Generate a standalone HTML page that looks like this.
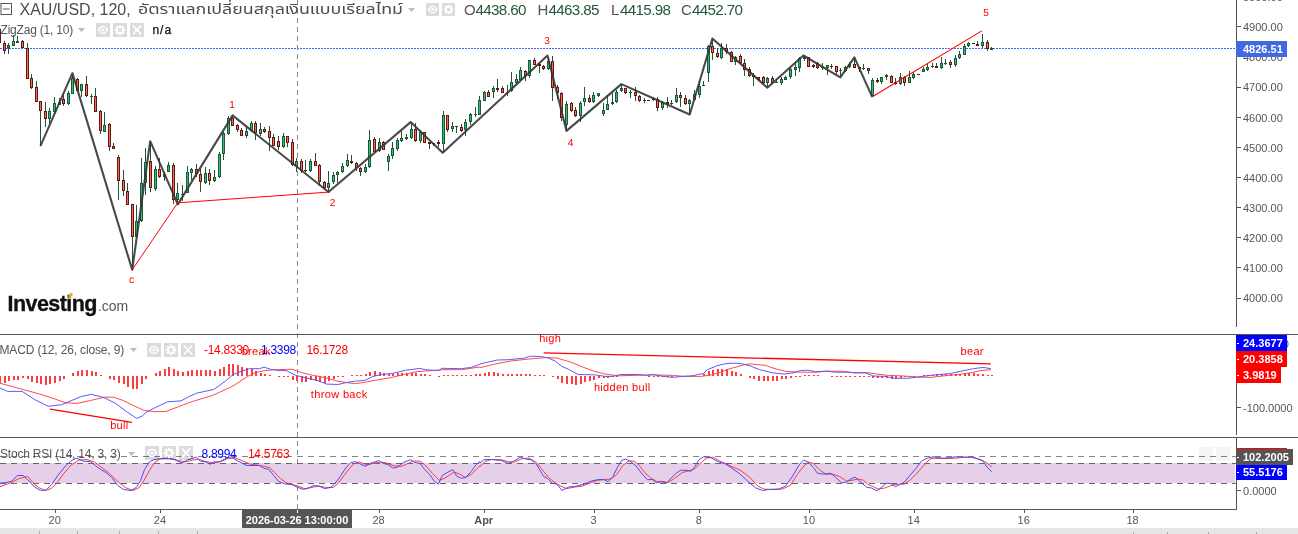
<!DOCTYPE html>
<html><head><meta charset="utf-8"><title>XAU/USD</title>
<style>
html,body{margin:0;padding:0;background:#fff;}
body{width:1298px;height:534px;position:relative;overflow:hidden;font-family:"Liberation Sans",Arial,sans-serif;}
#c{position:absolute;left:0;top:0;}
.t{position:absolute;white-space:nowrap;line-height:1;}
.ax{position:absolute;left:1243px;font-size:11px;color:#555;white-space:nowrap;line-height:11px;}
.lb{position:absolute;left:1236px;height:16px;color:#fff;font-weight:bold;font-size:11px;line-height:16px;padding-left:7px;box-sizing:border-box;white-space:nowrap;}
.lb:before{content:"";position:absolute;left:1px;top:8px;width:2px;height:1px;background:#fff;}
.nt:before{display:none;}
.tm{position:absolute;top:514.5px;font-size:11px;color:#555;line-height:11px;transform:translateX(-50%);white-space:nowrap;}
.rd{color:#ff0000;font-size:10px;text-rendering:geometricPrecision;}
.ic{position:absolute;background:rgba(0,0,0,0.14);}
.ic svg{position:absolute;left:0;top:0;}
.leg{color:#555;font-size:12px;}
</style></head><body>

<svg id="c" width="1298" height="534" viewBox="0 0 1298 534">
<line x1="0" y1="48.5" x2="1236" y2="48.5" stroke="#4169e1" stroke-width="1" stroke-dasharray="2,1" shape-rendering="crispEdges"/>
<line x1="297.5" y1="0" x2="297.5" y2="509" stroke="#8c8c8c" stroke-width="1" stroke-dasharray="5,4" shape-rendering="crispEdges"/>
<g shape-rendering="crispEdges"><rect x="-1" y="29" width="1" height="14" fill="#225437"/><rect x="-2" y="29" width="3" height="14" fill="#5b1a13"/><rect x="-1" y="30" width="1" height="12" fill="#ff6656"/><rect x="4" y="41" width="1" height="13" fill="#225437"/><rect x="3" y="43" width="3" height="8" fill="#5b1a13"/><rect x="4" y="44" width="1" height="6" fill="#ff6656"/><rect x="8" y="43" width="1" height="11" fill="#225437"/><rect x="7" y="45" width="3" height="3" fill="#225437"/><rect x="8" y="46" width="1" height="1" fill="#1ec773"/><rect x="13" y="35" width="1" height="11" fill="#225437"/><rect x="12" y="41" width="3" height="5" fill="#225437"/><rect x="13" y="42" width="1" height="3" fill="#1ec773"/><rect x="17" y="36" width="1" height="7" fill="#225437"/><rect x="16" y="41" width="3" height="2" fill="#225437"/><rect x="22" y="40" width="1" height="8" fill="#225437"/><rect x="21" y="41" width="3" height="7" fill="#5b1a13"/><rect x="22" y="42" width="1" height="5" fill="#ff6656"/><rect x="27" y="43" width="1" height="36" fill="#225437"/><rect x="26" y="48" width="3" height="31" fill="#5b1a13"/><rect x="27" y="49" width="1" height="29" fill="#ff6656"/><rect x="31" y="74" width="1" height="15" fill="#225437"/><rect x="30" y="78" width="3" height="10" fill="#5b1a13"/><rect x="31" y="79" width="1" height="8" fill="#ff6656"/><rect x="36" y="81" width="1" height="21" fill="#225437"/><rect x="35" y="87" width="3" height="15" fill="#5b1a13"/><rect x="36" y="88" width="1" height="13" fill="#ff6656"/><rect x="40" y="101" width="1" height="45" fill="#225437"/><rect x="39" y="101" width="3" height="10" fill="#5b1a13"/><rect x="40" y="102" width="1" height="8" fill="#ff6656"/><rect x="45" y="102" width="1" height="25" fill="#225437"/><rect x="44" y="111" width="3" height="8" fill="#5b1a13"/><rect x="45" y="112" width="1" height="6" fill="#ff6656"/><rect x="49" y="108" width="1" height="16" fill="#225437"/><rect x="48" y="111" width="3" height="8" fill="#225437"/><rect x="49" y="112" width="1" height="6" fill="#1ec773"/><rect x="54" y="97" width="1" height="17" fill="#225437"/><rect x="53" y="103" width="3" height="9" fill="#225437"/><rect x="54" y="104" width="1" height="7" fill="#1ec773"/><rect x="59" y="98" width="1" height="7" fill="#225437"/><rect x="58" y="102" width="3" height="3" fill="#225437"/><rect x="59" y="103" width="1" height="1" fill="#1ec773"/><rect x="63" y="94" width="1" height="12" fill="#225437"/><rect x="62" y="99" width="3" height="5" fill="#5b1a13"/><rect x="63" y="100" width="1" height="3" fill="#ff6656"/><rect x="68" y="91" width="1" height="14" fill="#225437"/><rect x="67" y="93" width="3" height="11" fill="#225437"/><rect x="68" y="94" width="1" height="9" fill="#1ec773"/><rect x="72" y="75" width="1" height="19" fill="#225437"/><rect x="71" y="78" width="3" height="16" fill="#225437"/><rect x="72" y="79" width="1" height="14" fill="#1ec773"/><rect x="77" y="78" width="1" height="13" fill="#225437"/><rect x="76" y="79" width="3" height="12" fill="#5b1a13"/><rect x="77" y="80" width="1" height="10" fill="#ff6656"/><rect x="81" y="84" width="1" height="13" fill="#225437"/><rect x="80" y="84" width="3" height="7" fill="#225437"/><rect x="81" y="85" width="1" height="5" fill="#1ec773"/><rect x="86" y="76" width="1" height="21" fill="#225437"/><rect x="85" y="84" width="3" height="12" fill="#5b1a13"/><rect x="86" y="85" width="1" height="10" fill="#ff6656"/><rect x="91" y="94" width="1" height="10" fill="#225437"/><rect x="90" y="96" width="3" height="1" fill="#225437"/><rect x="95" y="88" width="1" height="24" fill="#225437"/><rect x="94" y="96" width="3" height="16" fill="#5b1a13"/><rect x="95" y="97" width="1" height="14" fill="#ff6656"/><rect x="100" y="110" width="1" height="24" fill="#225437"/><rect x="99" y="111" width="3" height="20" fill="#5b1a13"/><rect x="100" y="112" width="1" height="18" fill="#ff6656"/><rect x="104" y="112" width="1" height="20" fill="#225437"/><rect x="103" y="125" width="3" height="7" fill="#225437"/><rect x="104" y="126" width="1" height="5" fill="#1ec773"/><rect x="109" y="123" width="1" height="28" fill="#225437"/><rect x="108" y="124" width="3" height="23" fill="#5b1a13"/><rect x="109" y="125" width="1" height="21" fill="#ff6656"/><rect x="113" y="143" width="1" height="6" fill="#225437"/><rect x="112" y="146" width="3" height="3" fill="#5b1a13"/><rect x="113" y="147" width="1" height="1" fill="#ff6656"/><rect x="118" y="155" width="1" height="45" fill="#225437"/><rect x="117" y="157" width="3" height="24" fill="#5b1a13"/><rect x="118" y="158" width="1" height="22" fill="#ff6656"/><rect x="123" y="170" width="1" height="26" fill="#225437"/><rect x="122" y="180" width="3" height="11" fill="#5b1a13"/><rect x="123" y="181" width="1" height="9" fill="#ff6656"/><rect x="127" y="183" width="1" height="22" fill="#225437"/><rect x="126" y="191" width="3" height="14" fill="#5b1a13"/><rect x="127" y="192" width="1" height="12" fill="#ff6656"/><rect x="132" y="204" width="1" height="66" fill="#225437"/><rect x="131" y="204" width="3" height="33" fill="#5b1a13"/><rect x="132" y="205" width="1" height="31" fill="#ff6656"/><rect x="136" y="205" width="1" height="32" fill="#225437"/><rect x="135" y="221" width="3" height="16" fill="#225437"/><rect x="136" y="222" width="1" height="14" fill="#1ec773"/><rect x="141" y="158" width="1" height="64" fill="#225437"/><rect x="140" y="183" width="3" height="38" fill="#225437"/><rect x="141" y="184" width="1" height="36" fill="#1ec773"/><rect x="145" y="148" width="1" height="47" fill="#225437"/><rect x="144" y="162" width="3" height="21" fill="#225437"/><rect x="145" y="163" width="1" height="19" fill="#1ec773"/><rect x="150" y="143" width="1" height="49" fill="#225437"/><rect x="149" y="161" width="3" height="27" fill="#5b1a13"/><rect x="150" y="162" width="1" height="25" fill="#ff6656"/><rect x="155" y="166" width="1" height="25" fill="#225437"/><rect x="154" y="169" width="3" height="20" fill="#225437"/><rect x="155" y="170" width="1" height="18" fill="#1ec773"/><rect x="159" y="158" width="1" height="20" fill="#225437"/><rect x="158" y="169" width="3" height="8" fill="#5b1a13"/><rect x="159" y="170" width="1" height="6" fill="#ff6656"/><rect x="164" y="172" width="1" height="9" fill="#225437"/><rect x="163" y="174" width="3" height="3" fill="#225437"/><rect x="164" y="175" width="1" height="1" fill="#1ec773"/><rect x="168" y="162" width="1" height="10" fill="#225437"/><rect x="167" y="165" width="3" height="7" fill="#225437"/><rect x="168" y="166" width="1" height="5" fill="#1ec773"/><rect x="173" y="163" width="1" height="41" fill="#225437"/><rect x="172" y="165" width="3" height="35" fill="#5b1a13"/><rect x="173" y="166" width="1" height="33" fill="#ff6656"/><rect x="177" y="183" width="1" height="21" fill="#225437"/><rect x="176" y="193" width="3" height="7" fill="#225437"/><rect x="177" y="194" width="1" height="5" fill="#1ec773"/><rect x="182" y="185" width="1" height="16" fill="#225437"/><rect x="181" y="194" width="3" height="1" fill="#225437"/><rect x="187" y="166" width="1" height="27" fill="#225437"/><rect x="186" y="172" width="3" height="21" fill="#225437"/><rect x="187" y="173" width="1" height="19" fill="#1ec773"/><rect x="191" y="168" width="1" height="12" fill="#225437"/><rect x="190" y="169" width="3" height="4" fill="#225437"/><rect x="191" y="170" width="1" height="2" fill="#1ec773"/><rect x="196" y="164" width="1" height="13" fill="#225437"/><rect x="195" y="169" width="3" height="5" fill="#5b1a13"/><rect x="196" y="170" width="1" height="3" fill="#ff6656"/><rect x="200" y="169" width="1" height="23" fill="#225437"/><rect x="199" y="174" width="3" height="8" fill="#5b1a13"/><rect x="200" y="175" width="1" height="6" fill="#ff6656"/><rect x="205" y="167" width="1" height="17" fill="#225437"/><rect x="204" y="173" width="3" height="10" fill="#225437"/><rect x="205" y="174" width="1" height="8" fill="#1ec773"/><rect x="209" y="169" width="1" height="16" fill="#225437"/><rect x="208" y="173" width="3" height="8" fill="#5b1a13"/><rect x="209" y="174" width="1" height="6" fill="#ff6656"/><rect x="214" y="170" width="1" height="12" fill="#225437"/><rect x="213" y="177" width="3" height="4" fill="#225437"/><rect x="214" y="178" width="1" height="2" fill="#1ec773"/><rect x="219" y="152" width="1" height="26" fill="#225437"/><rect x="218" y="154" width="3" height="23" fill="#225437"/><rect x="219" y="155" width="1" height="21" fill="#1ec773"/><rect x="223" y="132" width="1" height="28" fill="#225437"/><rect x="222" y="133" width="3" height="21" fill="#225437"/><rect x="223" y="134" width="1" height="19" fill="#1ec773"/><rect x="228" y="116" width="1" height="19" fill="#225437"/><rect x="227" y="118" width="3" height="16" fill="#225437"/><rect x="228" y="119" width="1" height="14" fill="#1ec773"/><rect x="232" y="116" width="1" height="10" fill="#225437"/><rect x="231" y="118" width="3" height="8" fill="#5b1a13"/><rect x="232" y="119" width="1" height="6" fill="#ff6656"/><rect x="237" y="124" width="1" height="8" fill="#225437"/><rect x="236" y="125" width="3" height="5" fill="#5b1a13"/><rect x="237" y="126" width="1" height="3" fill="#ff6656"/><rect x="241" y="128" width="1" height="8" fill="#225437"/><rect x="240" y="130" width="3" height="6" fill="#5b1a13"/><rect x="241" y="131" width="1" height="4" fill="#ff6656"/><rect x="246" y="126" width="1" height="12" fill="#225437"/><rect x="245" y="131" width="3" height="5" fill="#225437"/><rect x="246" y="132" width="1" height="3" fill="#1ec773"/><rect x="251" y="121" width="1" height="11" fill="#225437"/><rect x="250" y="123" width="3" height="8" fill="#225437"/><rect x="251" y="124" width="1" height="6" fill="#1ec773"/><rect x="255" y="121" width="1" height="19" fill="#225437"/><rect x="254" y="123" width="3" height="10" fill="#5b1a13"/><rect x="255" y="124" width="1" height="8" fill="#ff6656"/><rect x="260" y="123" width="1" height="13" fill="#225437"/><rect x="259" y="129" width="3" height="5" fill="#225437"/><rect x="260" y="130" width="1" height="3" fill="#1ec773"/><rect x="264" y="127" width="1" height="6" fill="#225437"/><rect x="263" y="129" width="3" height="3" fill="#5b1a13"/><rect x="264" y="130" width="1" height="1" fill="#ff6656"/><rect x="269" y="126" width="1" height="25" fill="#225437"/><rect x="268" y="131" width="3" height="7" fill="#5b1a13"/><rect x="269" y="132" width="1" height="5" fill="#ff6656"/><rect x="273" y="134" width="1" height="12" fill="#225437"/><rect x="272" y="137" width="3" height="9" fill="#5b1a13"/><rect x="273" y="138" width="1" height="7" fill="#ff6656"/><rect x="278" y="136" width="1" height="14" fill="#225437"/><rect x="277" y="141" width="3" height="6" fill="#5b1a13"/><rect x="278" y="142" width="1" height="4" fill="#ff6656"/><rect x="283" y="133" width="1" height="15" fill="#225437"/><rect x="282" y="136" width="3" height="11" fill="#225437"/><rect x="283" y="137" width="1" height="9" fill="#1ec773"/><rect x="287" y="136" width="1" height="11" fill="#225437"/><rect x="286" y="136" width="3" height="7" fill="#5b1a13"/><rect x="287" y="137" width="1" height="5" fill="#ff6656"/><rect x="292" y="139" width="1" height="27" fill="#225437"/><rect x="291" y="142" width="3" height="23" fill="#5b1a13"/><rect x="292" y="143" width="1" height="21" fill="#ff6656"/><rect x="296" y="158" width="1" height="14" fill="#225437"/><rect x="295" y="161" width="3" height="5" fill="#225437"/><rect x="296" y="162" width="1" height="3" fill="#1ec773"/><rect x="301" y="159" width="1" height="14" fill="#225437"/><rect x="300" y="161" width="3" height="10" fill="#5b1a13"/><rect x="301" y="162" width="1" height="8" fill="#ff6656"/><rect x="305" y="160" width="1" height="12" fill="#225437"/><rect x="304" y="170" width="3" height="1" fill="#5b1a13"/><rect x="310" y="159" width="1" height="13" fill="#225437"/><rect x="309" y="161" width="3" height="10" fill="#225437"/><rect x="310" y="162" width="1" height="8" fill="#1ec773"/><rect x="315" y="153" width="1" height="13" fill="#225437"/><rect x="314" y="161" width="3" height="5" fill="#5b1a13"/><rect x="315" y="162" width="1" height="3" fill="#ff6656"/><rect x="319" y="164" width="1" height="22" fill="#225437"/><rect x="318" y="165" width="3" height="17" fill="#5b1a13"/><rect x="319" y="166" width="1" height="15" fill="#ff6656"/><rect x="324" y="181" width="1" height="9" fill="#225437"/><rect x="323" y="182" width="3" height="6" fill="#5b1a13"/><rect x="324" y="183" width="1" height="4" fill="#ff6656"/><rect x="328" y="171" width="1" height="22" fill="#225437"/><rect x="327" y="183" width="3" height="5" fill="#225437"/><rect x="328" y="184" width="1" height="3" fill="#1ec773"/><rect x="333" y="172" width="1" height="12" fill="#225437"/><rect x="332" y="175" width="3" height="7" fill="#225437"/><rect x="333" y="176" width="1" height="5" fill="#1ec773"/><rect x="337" y="171" width="1" height="12" fill="#225437"/><rect x="336" y="172" width="3" height="3" fill="#225437"/><rect x="337" y="173" width="1" height="1" fill="#1ec773"/><rect x="342" y="163" width="1" height="10" fill="#225437"/><rect x="341" y="166" width="3" height="6" fill="#225437"/><rect x="342" y="167" width="1" height="4" fill="#1ec773"/><rect x="347" y="154" width="1" height="13" fill="#225437"/><rect x="346" y="160" width="3" height="6" fill="#225437"/><rect x="347" y="161" width="1" height="4" fill="#1ec773"/><rect x="351" y="155" width="1" height="9" fill="#225437"/><rect x="350" y="161" width="3" height="2" fill="#5b1a13"/><rect x="356" y="162" width="1" height="9" fill="#225437"/><rect x="355" y="163" width="3" height="5" fill="#5b1a13"/><rect x="356" y="164" width="1" height="3" fill="#ff6656"/><rect x="360" y="167" width="1" height="9" fill="#225437"/><rect x="359" y="168" width="3" height="4" fill="#5b1a13"/><rect x="360" y="169" width="1" height="2" fill="#ff6656"/><rect x="365" y="164" width="1" height="9" fill="#225437"/><rect x="364" y="167" width="3" height="5" fill="#225437"/><rect x="365" y="168" width="1" height="3" fill="#1ec773"/><rect x="369" y="130" width="1" height="38" fill="#225437"/><rect x="368" y="140" width="3" height="27" fill="#225437"/><rect x="369" y="141" width="1" height="25" fill="#1ec773"/><rect x="374" y="137" width="1" height="15" fill="#225437"/><rect x="373" y="139" width="3" height="13" fill="#5b1a13"/><rect x="374" y="140" width="1" height="11" fill="#ff6656"/><rect x="379" y="138" width="1" height="14" fill="#225437"/><rect x="378" y="142" width="3" height="9" fill="#225437"/><rect x="379" y="143" width="1" height="7" fill="#1ec773"/><rect x="383" y="141" width="1" height="9" fill="#225437"/><rect x="382" y="142" width="3" height="8" fill="#5b1a13"/><rect x="383" y="143" width="1" height="6" fill="#ff6656"/><rect x="388" y="154" width="1" height="17" fill="#225437"/><rect x="387" y="156" width="3" height="6" fill="#225437"/><rect x="388" y="157" width="1" height="4" fill="#1ec773"/><rect x="392" y="142" width="1" height="17" fill="#225437"/><rect x="391" y="148" width="3" height="8" fill="#225437"/><rect x="392" y="149" width="1" height="6" fill="#1ec773"/><rect x="397" y="138" width="1" height="13" fill="#225437"/><rect x="396" y="140" width="3" height="9" fill="#225437"/><rect x="397" y="141" width="1" height="7" fill="#1ec773"/><rect x="401" y="131" width="1" height="11" fill="#225437"/><rect x="400" y="138" width="3" height="3" fill="#225437"/><rect x="401" y="139" width="1" height="1" fill="#1ec773"/><rect x="406" y="134" width="1" height="6" fill="#225437"/><rect x="405" y="137" width="3" height="2" fill="#225437"/><rect x="411" y="122" width="1" height="17" fill="#225437"/><rect x="410" y="129" width="3" height="9" fill="#225437"/><rect x="411" y="130" width="1" height="7" fill="#1ec773"/><rect x="415" y="123" width="1" height="19" fill="#225437"/><rect x="414" y="129" width="3" height="12" fill="#5b1a13"/><rect x="415" y="130" width="1" height="10" fill="#ff6656"/><rect x="420" y="130" width="1" height="13" fill="#225437"/><rect x="419" y="132" width="3" height="9" fill="#225437"/><rect x="420" y="133" width="1" height="7" fill="#1ec773"/><rect x="424" y="132" width="1" height="11" fill="#225437"/><rect x="423" y="132" width="3" height="11" fill="#5b1a13"/><rect x="424" y="133" width="1" height="9" fill="#ff6656"/><rect x="429" y="142" width="1" height="7" fill="#225437"/><rect x="428" y="142" width="3" height="2" fill="#5b1a13"/><rect x="433" y="143" width="1" height="3" fill="#225437"/><rect x="432" y="143" width="3" height="1" fill="#5b1a13"/><rect x="438" y="140" width="1" height="7" fill="#225437"/><rect x="437" y="142" width="3" height="2" fill="#5b1a13"/><rect x="443" y="111" width="1" height="41" fill="#225437"/><rect x="442" y="115" width="3" height="29" fill="#225437"/><rect x="443" y="116" width="1" height="27" fill="#1ec773"/><rect x="447" y="115" width="1" height="17" fill="#225437"/><rect x="446" y="115" width="3" height="15" fill="#5b1a13"/><rect x="447" y="116" width="1" height="13" fill="#ff6656"/><rect x="452" y="122" width="1" height="10" fill="#225437"/><rect x="451" y="126" width="3" height="3" fill="#225437"/><rect x="452" y="127" width="1" height="1" fill="#1ec773"/><rect x="456" y="126" width="1" height="7" fill="#225437"/><rect x="455" y="126" width="3" height="1" fill="#5b1a13"/><rect x="461" y="124" width="1" height="8" fill="#225437"/><rect x="460" y="127" width="3" height="4" fill="#5b1a13"/><rect x="461" y="128" width="1" height="2" fill="#ff6656"/><rect x="465" y="119" width="1" height="17" fill="#225437"/><rect x="464" y="122" width="3" height="8" fill="#225437"/><rect x="465" y="123" width="1" height="6" fill="#1ec773"/><rect x="470" y="113" width="1" height="12" fill="#225437"/><rect x="469" y="114" width="3" height="8" fill="#225437"/><rect x="470" y="115" width="1" height="6" fill="#1ec773"/><rect x="475" y="107" width="1" height="10" fill="#225437"/><rect x="474" y="114" width="3" height="1" fill="#225437"/><rect x="479" y="96" width="1" height="19" fill="#225437"/><rect x="478" y="100" width="3" height="15" fill="#225437"/><rect x="479" y="101" width="1" height="13" fill="#1ec773"/><rect x="484" y="91" width="1" height="10" fill="#225437"/><rect x="483" y="92" width="3" height="9" fill="#225437"/><rect x="484" y="93" width="1" height="7" fill="#1ec773"/><rect x="488" y="90" width="1" height="7" fill="#225437"/><rect x="487" y="92" width="3" height="5" fill="#5b1a13"/><rect x="488" y="93" width="1" height="3" fill="#ff6656"/><rect x="493" y="86" width="1" height="12" fill="#225437"/><rect x="492" y="88" width="3" height="4" fill="#225437"/><rect x="493" y="89" width="1" height="2" fill="#1ec773"/><rect x="497" y="79" width="1" height="13" fill="#225437"/><rect x="496" y="88" width="3" height="2" fill="#5b1a13"/><rect x="502" y="86" width="1" height="7" fill="#225437"/><rect x="501" y="88" width="3" height="5" fill="#5b1a13"/><rect x="502" y="89" width="1" height="3" fill="#ff6656"/><rect x="507" y="85" width="1" height="11" fill="#225437"/><rect x="506" y="92" width="3" height="1" fill="#225437"/><rect x="511" y="72" width="1" height="20" fill="#225437"/><rect x="510" y="82" width="3" height="9" fill="#225437"/><rect x="511" y="83" width="1" height="7" fill="#1ec773"/><rect x="516" y="74" width="1" height="10" fill="#225437"/><rect x="515" y="79" width="3" height="4" fill="#225437"/><rect x="516" y="80" width="1" height="2" fill="#1ec773"/><rect x="520" y="67" width="1" height="14" fill="#225437"/><rect x="519" y="70" width="3" height="10" fill="#225437"/><rect x="520" y="71" width="1" height="8" fill="#1ec773"/><rect x="525" y="70" width="1" height="11" fill="#225437"/><rect x="524" y="71" width="3" height="5" fill="#5b1a13"/><rect x="525" y="72" width="1" height="3" fill="#ff6656"/><rect x="529" y="60" width="1" height="18" fill="#225437"/><rect x="528" y="60" width="3" height="16" fill="#225437"/><rect x="529" y="61" width="1" height="14" fill="#1ec773"/><rect x="534" y="58" width="1" height="7" fill="#225437"/><rect x="533" y="60" width="3" height="5" fill="#5b1a13"/><rect x="534" y="61" width="1" height="3" fill="#ff6656"/><rect x="539" y="63" width="1" height="10" fill="#225437"/><rect x="538" y="64" width="3" height="2" fill="#5b1a13"/><rect x="543" y="65" width="1" height="5" fill="#225437"/><rect x="542" y="66" width="3" height="3" fill="#5b1a13"/><rect x="543" y="67" width="1" height="1" fill="#ff6656"/><rect x="548" y="57" width="1" height="13" fill="#225437"/><rect x="547" y="61" width="3" height="8" fill="#225437"/><rect x="548" y="62" width="1" height="6" fill="#1ec773"/><rect x="552" y="56" width="1" height="45" fill="#225437"/><rect x="551" y="61" width="3" height="27" fill="#5b1a13"/><rect x="552" y="62" width="1" height="25" fill="#ff6656"/><rect x="557" y="85" width="1" height="14" fill="#225437"/><rect x="556" y="87" width="3" height="6" fill="#5b1a13"/><rect x="557" y="88" width="1" height="4" fill="#ff6656"/><rect x="561" y="92" width="1" height="29" fill="#225437"/><rect x="560" y="93" width="3" height="25" fill="#5b1a13"/><rect x="561" y="94" width="1" height="23" fill="#ff6656"/><rect x="566" y="101" width="1" height="29" fill="#225437"/><rect x="565" y="104" width="3" height="21" fill="#225437"/><rect x="566" y="105" width="1" height="19" fill="#1ec773"/><rect x="571" y="102" width="1" height="10" fill="#225437"/><rect x="570" y="103" width="3" height="8" fill="#5b1a13"/><rect x="571" y="104" width="1" height="6" fill="#ff6656"/><rect x="575" y="107" width="1" height="10" fill="#225437"/><rect x="574" y="110" width="3" height="6" fill="#5b1a13"/><rect x="575" y="111" width="1" height="4" fill="#ff6656"/><rect x="580" y="101" width="1" height="21" fill="#225437"/><rect x="579" y="103" width="3" height="13" fill="#225437"/><rect x="580" y="104" width="1" height="11" fill="#1ec773"/><rect x="584" y="87" width="1" height="19" fill="#225437"/><rect x="583" y="98" width="3" height="4" fill="#225437"/><rect x="584" y="99" width="1" height="2" fill="#1ec773"/><rect x="589" y="95" width="1" height="8" fill="#225437"/><rect x="588" y="98" width="3" height="4" fill="#5b1a13"/><rect x="589" y="99" width="1" height="2" fill="#ff6656"/><rect x="593" y="92" width="1" height="11" fill="#225437"/><rect x="592" y="95" width="3" height="7" fill="#225437"/><rect x="593" y="96" width="1" height="5" fill="#1ec773"/><rect x="598" y="93" width="1" height="4" fill="#225437"/><rect x="597" y="93" width="3" height="3" fill="#225437"/><rect x="598" y="94" width="1" height="1" fill="#1ec773"/><rect x="603" y="103" width="1" height="13" fill="#225437"/><rect x="602" y="110" width="3" height="4" fill="#225437"/><rect x="603" y="111" width="1" height="2" fill="#1ec773"/><rect x="607" y="95" width="1" height="15" fill="#225437"/><rect x="606" y="104" width="3" height="6" fill="#225437"/><rect x="607" y="105" width="1" height="4" fill="#1ec773"/><rect x="612" y="93" width="1" height="12" fill="#225437"/><rect x="611" y="102" width="3" height="2" fill="#225437"/><rect x="616" y="90" width="1" height="13" fill="#225437"/><rect x="615" y="92" width="3" height="10" fill="#225437"/><rect x="616" y="93" width="1" height="8" fill="#1ec773"/><rect x="621" y="84" width="1" height="8" fill="#225437"/><rect x="620" y="88" width="3" height="3" fill="#225437"/><rect x="621" y="89" width="1" height="1" fill="#1ec773"/><rect x="625" y="88" width="1" height="6" fill="#225437"/><rect x="624" y="88" width="3" height="5" fill="#5b1a13"/><rect x="625" y="89" width="1" height="3" fill="#ff6656"/><rect x="630" y="90" width="1" height="8" fill="#225437"/><rect x="629" y="92" width="3" height="1" fill="#225437"/><rect x="635" y="87" width="1" height="14" fill="#225437"/><rect x="634" y="92" width="3" height="4" fill="#5b1a13"/><rect x="635" y="93" width="1" height="2" fill="#ff6656"/><rect x="639" y="95" width="1" height="7" fill="#225437"/><rect x="638" y="96" width="3" height="5" fill="#5b1a13"/><rect x="639" y="97" width="1" height="3" fill="#ff6656"/><rect x="644" y="98" width="1" height="5" fill="#225437"/><rect x="643" y="100" width="3" height="1" fill="#225437"/><rect x="648" y="100" width="1" height="1" fill="#225437"/><rect x="647" y="100" width="3" height="1" fill="#5b1a13"/><rect x="653" y="97" width="1" height="4" fill="#225437"/><rect x="652" y="99" width="3" height="1" fill="#5b1a13"/><rect x="657" y="97" width="1" height="14" fill="#225437"/><rect x="656" y="99" width="3" height="9" fill="#5b1a13"/><rect x="657" y="100" width="1" height="7" fill="#ff6656"/><rect x="662" y="101" width="1" height="9" fill="#225437"/><rect x="661" y="102" width="3" height="6" fill="#225437"/><rect x="662" y="103" width="1" height="4" fill="#1ec773"/><rect x="667" y="97" width="1" height="11" fill="#225437"/><rect x="666" y="102" width="3" height="2" fill="#5b1a13"/><rect x="671" y="100" width="1" height="5" fill="#225437"/><rect x="670" y="103" width="3" height="1" fill="#225437"/><rect x="676" y="88" width="1" height="15" fill="#225437"/><rect x="675" y="95" width="3" height="7" fill="#225437"/><rect x="676" y="96" width="1" height="5" fill="#1ec773"/><rect x="680" y="92" width="1" height="15" fill="#225437"/><rect x="679" y="95" width="3" height="3" fill="#5b1a13"/><rect x="680" y="96" width="1" height="1" fill="#ff6656"/><rect x="685" y="95" width="1" height="10" fill="#225437"/><rect x="684" y="98" width="3" height="6" fill="#5b1a13"/><rect x="685" y="99" width="1" height="4" fill="#ff6656"/><rect x="689" y="99" width="1" height="14" fill="#225437"/><rect x="688" y="100" width="3" height="4" fill="#225437"/><rect x="689" y="101" width="1" height="2" fill="#1ec773"/><rect x="694" y="90" width="1" height="10" fill="#225437"/><rect x="693" y="94" width="3" height="6" fill="#225437"/><rect x="694" y="95" width="1" height="4" fill="#1ec773"/><rect x="699" y="81" width="1" height="17" fill="#225437"/><rect x="698" y="86" width="3" height="9" fill="#225437"/><rect x="699" y="87" width="1" height="7" fill="#1ec773"/><rect x="703" y="81" width="1" height="5" fill="#225437"/><rect x="702" y="85" width="3" height="1" fill="#225437"/><rect x="708" y="45" width="1" height="37" fill="#225437"/><rect x="707" y="46" width="3" height="27" fill="#225437"/><rect x="708" y="47" width="1" height="25" fill="#1ec773"/><rect x="712" y="39" width="1" height="21" fill="#225437"/><rect x="711" y="46" width="3" height="7" fill="#5b1a13"/><rect x="712" y="47" width="1" height="5" fill="#ff6656"/><rect x="717" y="48" width="1" height="10" fill="#225437"/><rect x="716" y="53" width="3" height="4" fill="#5b1a13"/><rect x="717" y="54" width="1" height="2" fill="#ff6656"/><rect x="721" y="43" width="1" height="16" fill="#225437"/><rect x="720" y="48" width="3" height="10" fill="#225437"/><rect x="721" y="49" width="1" height="8" fill="#1ec773"/><rect x="726" y="44" width="1" height="10" fill="#225437"/><rect x="725" y="48" width="3" height="4" fill="#5b1a13"/><rect x="726" y="49" width="1" height="2" fill="#ff6656"/><rect x="731" y="51" width="1" height="11" fill="#225437"/><rect x="730" y="52" width="3" height="10" fill="#5b1a13"/><rect x="731" y="53" width="1" height="8" fill="#ff6656"/><rect x="735" y="56" width="1" height="9" fill="#225437"/><rect x="734" y="57" width="3" height="5" fill="#225437"/><rect x="735" y="58" width="1" height="3" fill="#1ec773"/><rect x="740" y="54" width="1" height="10" fill="#225437"/><rect x="739" y="56" width="3" height="7" fill="#5b1a13"/><rect x="740" y="57" width="1" height="5" fill="#ff6656"/><rect x="744" y="59" width="1" height="17" fill="#225437"/><rect x="743" y="63" width="3" height="7" fill="#5b1a13"/><rect x="744" y="64" width="1" height="5" fill="#ff6656"/><rect x="749" y="67" width="1" height="10" fill="#225437"/><rect x="748" y="69" width="3" height="7" fill="#5b1a13"/><rect x="749" y="70" width="1" height="5" fill="#ff6656"/><rect x="753" y="73" width="1" height="13" fill="#225437"/><rect x="752" y="75" width="3" height="2" fill="#5b1a13"/><rect x="758" y="77" width="1" height="4" fill="#225437"/><rect x="757" y="77" width="3" height="3" fill="#5b1a13"/><rect x="758" y="78" width="1" height="1" fill="#ff6656"/><rect x="763" y="76" width="1" height="8" fill="#225437"/><rect x="762" y="77" width="3" height="6" fill="#5b1a13"/><rect x="763" y="78" width="1" height="4" fill="#ff6656"/><rect x="767" y="77" width="1" height="10" fill="#225437"/><rect x="766" y="78" width="3" height="5" fill="#225437"/><rect x="767" y="79" width="1" height="3" fill="#1ec773"/><rect x="772" y="76" width="1" height="8" fill="#225437"/><rect x="771" y="78" width="3" height="5" fill="#5b1a13"/><rect x="772" y="79" width="1" height="3" fill="#ff6656"/><rect x="776" y="79" width="1" height="4" fill="#225437"/><rect x="775" y="82" width="3" height="1" fill="#225437"/><rect x="781" y="77" width="1" height="8" fill="#225437"/><rect x="780" y="79" width="3" height="4" fill="#225437"/><rect x="781" y="80" width="1" height="2" fill="#1ec773"/><rect x="785" y="76" width="1" height="4" fill="#225437"/><rect x="784" y="77" width="3" height="3" fill="#225437"/><rect x="785" y="78" width="1" height="1" fill="#1ec773"/><rect x="790" y="68" width="1" height="11" fill="#225437"/><rect x="789" y="69" width="3" height="8" fill="#225437"/><rect x="790" y="70" width="1" height="6" fill="#1ec773"/><rect x="795" y="62" width="1" height="14" fill="#225437"/><rect x="794" y="67" width="3" height="3" fill="#225437"/><rect x="795" y="68" width="1" height="1" fill="#1ec773"/><rect x="799" y="57" width="1" height="15" fill="#225437"/><rect x="798" y="58" width="3" height="10" fill="#225437"/><rect x="799" y="59" width="1" height="8" fill="#1ec773"/><rect x="804" y="56" width="1" height="5" fill="#225437"/><rect x="803" y="57" width="3" height="2" fill="#225437"/><rect x="808" y="57" width="1" height="10" fill="#225437"/><rect x="807" y="57" width="3" height="10" fill="#5b1a13"/><rect x="808" y="58" width="1" height="8" fill="#ff6656"/><rect x="813" y="64" width="1" height="4" fill="#225437"/><rect x="812" y="65" width="3" height="2" fill="#5b1a13"/><rect x="817" y="62" width="1" height="7" fill="#225437"/><rect x="816" y="63" width="3" height="5" fill="#5b1a13"/><rect x="817" y="64" width="1" height="3" fill="#ff6656"/><rect x="822" y="63" width="1" height="7" fill="#225437"/><rect x="821" y="67" width="3" height="1" fill="#225437"/><rect x="827" y="65" width="1" height="10" fill="#225437"/><rect x="826" y="65" width="3" height="3" fill="#225437"/><rect x="827" y="66" width="1" height="1" fill="#1ec773"/><rect x="831" y="64" width="1" height="5" fill="#225437"/><rect x="830" y="66" width="3" height="1" fill="#5b1a13"/><rect x="836" y="66" width="1" height="8" fill="#225437"/><rect x="835" y="66" width="3" height="6" fill="#5b1a13"/><rect x="836" y="67" width="1" height="4" fill="#ff6656"/><rect x="840" y="68" width="1" height="8" fill="#225437"/><rect x="839" y="70" width="3" height="1" fill="#225437"/><rect x="845" y="66" width="1" height="6" fill="#225437"/><rect x="844" y="67" width="3" height="4" fill="#225437"/><rect x="845" y="68" width="1" height="2" fill="#1ec773"/><rect x="849" y="62" width="1" height="6" fill="#225437"/><rect x="848" y="64" width="3" height="3" fill="#225437"/><rect x="849" y="65" width="1" height="1" fill="#1ec773"/><rect x="854" y="57" width="1" height="11" fill="#225437"/><rect x="853" y="64" width="3" height="4" fill="#5b1a13"/><rect x="854" y="65" width="1" height="2" fill="#ff6656"/><rect x="859" y="67" width="1" height="5" fill="#225437"/><rect x="858" y="67" width="3" height="2" fill="#5b1a13"/><rect x="863" y="64" width="1" height="6" fill="#225437"/><rect x="862" y="68" width="3" height="1" fill="#225437"/><rect x="868" y="68" width="1" height="6" fill="#225437"/><rect x="867" y="68" width="3" height="3" fill="#5b1a13"/><rect x="868" y="69" width="1" height="1" fill="#ff6656"/><rect x="872" y="78" width="1" height="19" fill="#225437"/><rect x="871" y="80" width="3" height="16" fill="#225437"/><rect x="872" y="81" width="1" height="14" fill="#1ec773"/><rect x="877" y="78" width="1" height="5" fill="#225437"/><rect x="876" y="80" width="3" height="2" fill="#5b1a13"/><rect x="881" y="77" width="1" height="7" fill="#225437"/><rect x="880" y="77" width="3" height="5" fill="#225437"/><rect x="881" y="78" width="1" height="3" fill="#1ec773"/><rect x="886" y="74" width="1" height="6" fill="#225437"/><rect x="885" y="75" width="3" height="2" fill="#225437"/><rect x="891" y="75" width="1" height="8" fill="#225437"/><rect x="890" y="76" width="3" height="7" fill="#5b1a13"/><rect x="891" y="77" width="1" height="5" fill="#ff6656"/><rect x="895" y="78" width="1" height="7" fill="#225437"/><rect x="894" y="82" width="3" height="2" fill="#5b1a13"/><rect x="900" y="73" width="1" height="12" fill="#225437"/><rect x="899" y="77" width="3" height="7" fill="#225437"/><rect x="900" y="78" width="1" height="5" fill="#1ec773"/><rect x="904" y="76" width="1" height="10" fill="#225437"/><rect x="903" y="77" width="3" height="6" fill="#5b1a13"/><rect x="904" y="78" width="1" height="4" fill="#ff6656"/><rect x="909" y="71" width="1" height="12" fill="#225437"/><rect x="908" y="77" width="3" height="6" fill="#225437"/><rect x="909" y="78" width="1" height="4" fill="#1ec773"/><rect x="913" y="72" width="1" height="7" fill="#225437"/><rect x="912" y="74" width="3" height="4" fill="#225437"/><rect x="913" y="75" width="1" height="2" fill="#1ec773"/><rect x="918" y="74" width="1" height="1" fill="#225437"/><rect x="917" y="74" width="3" height="1" fill="#5b1a13"/><rect x="923" y="67" width="1" height="5" fill="#225437"/><rect x="922" y="69" width="3" height="3" fill="#225437"/><rect x="923" y="70" width="1" height="1" fill="#1ec773"/><rect x="927" y="64" width="1" height="7" fill="#225437"/><rect x="926" y="67" width="3" height="3" fill="#225437"/><rect x="927" y="68" width="1" height="1" fill="#1ec773"/><rect x="932" y="63" width="1" height="5" fill="#225437"/><rect x="931" y="66" width="3" height="1" fill="#225437"/><rect x="936" y="63" width="1" height="5" fill="#225437"/><rect x="935" y="66" width="3" height="2" fill="#5b1a13"/><rect x="941" y="57" width="1" height="12" fill="#225437"/><rect x="940" y="63" width="3" height="5" fill="#225437"/><rect x="941" y="64" width="1" height="3" fill="#1ec773"/><rect x="945" y="59" width="1" height="6" fill="#225437"/><rect x="944" y="63" width="3" height="1" fill="#225437"/><rect x="950" y="60" width="1" height="8" fill="#225437"/><rect x="949" y="62" width="3" height="3" fill="#5b1a13"/><rect x="950" y="63" width="1" height="1" fill="#ff6656"/><rect x="955" y="55" width="1" height="12" fill="#225437"/><rect x="954" y="58" width="3" height="7" fill="#225437"/><rect x="955" y="59" width="1" height="5" fill="#1ec773"/><rect x="959" y="51" width="1" height="8" fill="#225437"/><rect x="958" y="54" width="3" height="4" fill="#225437"/><rect x="959" y="55" width="1" height="2" fill="#1ec773"/><rect x="964" y="44" width="1" height="11" fill="#225437"/><rect x="963" y="46" width="3" height="9" fill="#225437"/><rect x="964" y="47" width="1" height="7" fill="#1ec773"/><rect x="968" y="42" width="1" height="5" fill="#225437"/><rect x="967" y="43" width="3" height="3" fill="#225437"/><rect x="968" y="44" width="1" height="1" fill="#1ec773"/><rect x="973" y="43" width="1" height="1" fill="#225437"/><rect x="972" y="43" width="3" height="1" fill="#5b1a13"/><rect x="977" y="41" width="1" height="5" fill="#225437"/><rect x="976" y="44" width="3" height="2" fill="#5b1a13"/><rect x="982" y="34" width="1" height="14" fill="#225437"/><rect x="981" y="42" width="3" height="4" fill="#225437"/><rect x="982" y="43" width="1" height="2" fill="#1ec773"/><rect x="987" y="40" width="1" height="11" fill="#225437"/><rect x="986" y="42" width="3" height="7" fill="#5b1a13"/><rect x="987" y="43" width="1" height="5" fill="#ff6656"/><rect x="991" y="47" width="1" height="3" fill="#225437"/><rect x="990" y="48" width="3" height="2" fill="#225437"/></g>
<polyline points="40.4,146.2 72.4,73.1 132.2,269.8 150.2,141.2 177.8,204.4 232.6,115.4 328.5,192.0 410.6,122.1 442.7,152.8 547.5,55.6 566.5,130.9 621.4,84.1 689.7,114.5 712.4,38.5 767.3,87.7 803.4,55.5 840.3,77.4 854.4,57.4 872.3,97.1" fill="none" stroke="#363636" stroke-opacity="0.9" stroke-width="2.1" stroke-linejoin="round"/>
<polyline points="132.2,269.8 177.8,202.8 330,192" fill="none" stroke="#ff0000" stroke-width="1"/>
<line x1="872.3" y1="96.8" x2="981.8" y2="30.9" stroke="#ff0000" stroke-width="1.1"/>
<g shape-rendering="crispEdges"><rect x="-1" y="376" width="2" height="7" fill="#ff3b3b"/><rect x="4" y="376" width="2" height="7" fill="#ff3b3b"/><rect x="8" y="376" width="2" height="5" fill="#ff3b3b"/><rect x="13" y="376" width="2" height="4" fill="#ff3b3b"/><rect x="17" y="376" width="2" height="4" fill="#ff3b3b"/><rect x="22" y="376" width="2" height="2" fill="#ff3b3b"/><rect x="27" y="376" width="2" height="3" fill="#ff3b3b"/><rect x="31" y="376" width="2" height="6" fill="#ff3b3b"/><rect x="36" y="376" width="2" height="7" fill="#ff3b3b"/><rect x="40" y="376" width="2" height="8" fill="#ff3b3b"/><rect x="45" y="376" width="2" height="9" fill="#ff3b3b"/><rect x="49" y="376" width="2" height="8" fill="#ff3b3b"/><rect x="54" y="376" width="2" height="7" fill="#ff3b3b"/><rect x="59" y="376" width="2" height="5" fill="#ff3b3b"/><rect x="63" y="376" width="2" height="3" fill="#ff3b3b"/><rect x="72" y="373" width="2" height="3" fill="#ff3b3b"/><rect x="77" y="371" width="2" height="5" fill="#ff3b3b"/><rect x="81" y="370" width="2" height="6" fill="#ff3b3b"/><rect x="86" y="370" width="2" height="6" fill="#ff3b3b"/><rect x="91" y="371" width="2" height="5" fill="#ff3b3b"/><rect x="95" y="372" width="2" height="4" fill="#ff3b3b"/><rect x="100" y="375" width="2" height="1" fill="#ff3b3b"/><rect x="109" y="376" width="2" height="3" fill="#ff3b3b"/><rect x="113" y="376" width="2" height="4" fill="#ff3b3b"/><rect x="118" y="376" width="2" height="7" fill="#ff3b3b"/><rect x="123" y="376" width="2" height="8" fill="#ff3b3b"/><rect x="127" y="376" width="2" height="11" fill="#ff3b3b"/><rect x="132" y="376" width="2" height="13" fill="#ff3b3b"/><rect x="136" y="376" width="2" height="13" fill="#ff3b3b"/><rect x="141" y="376" width="2" height="8" fill="#ff3b3b"/><rect x="145" y="376" width="2" height="3" fill="#ff3b3b"/><rect x="155" y="373" width="2" height="3" fill="#ff3b3b"/><rect x="159" y="371" width="2" height="5" fill="#ff3b3b"/><rect x="164" y="369" width="2" height="7" fill="#ff3b3b"/><rect x="168" y="367" width="2" height="9" fill="#ff3b3b"/><rect x="173" y="369" width="2" height="7" fill="#ff3b3b"/><rect x="177" y="371" width="2" height="5" fill="#ff3b3b"/><rect x="182" y="372" width="2" height="4" fill="#ff3b3b"/><rect x="187" y="371" width="2" height="5" fill="#ff3b3b"/><rect x="191" y="370" width="2" height="6" fill="#ff3b3b"/><rect x="196" y="370" width="2" height="6" fill="#ff3b3b"/><rect x="200" y="370" width="2" height="6" fill="#ff3b3b"/><rect x="205" y="370" width="2" height="6" fill="#ff3b3b"/><rect x="209" y="370" width="2" height="6" fill="#ff3b3b"/><rect x="214" y="371" width="2" height="5" fill="#ff3b3b"/><rect x="219" y="369" width="2" height="7" fill="#ff3b3b"/><rect x="223" y="367" width="2" height="9" fill="#ff3b3b"/><rect x="228" y="364" width="2" height="12" fill="#ff3b3b"/><rect x="232" y="364" width="2" height="12" fill="#ff3b3b"/><rect x="237" y="365" width="2" height="11" fill="#ff3b3b"/><rect x="241" y="367" width="2" height="9" fill="#ff3b3b"/><rect x="246" y="368" width="2" height="8" fill="#ff3b3b"/><rect x="251" y="369" width="2" height="7" fill="#ff3b3b"/><rect x="255" y="371" width="2" height="5" fill="#ff3b3b"/><rect x="260" y="373" width="2" height="3" fill="#ff3b3b"/><rect x="264" y="374" width="2" height="2" fill="#ff3b3b"/><rect x="269" y="375" width="2" height="1" fill="#ff3b3b"/><rect x="278" y="376" width="2" height="1" fill="#ff3b3b"/><rect x="283" y="376" width="2" height="1" fill="#ff3b3b"/><rect x="287" y="376" width="2" height="1" fill="#ff3b3b"/><rect x="292" y="376" width="2" height="4" fill="#ff3b3b"/><rect x="296" y="376" width="2" height="5" fill="#ff3b3b"/><rect x="301" y="376" width="2" height="6" fill="#ff3b3b"/><rect x="305" y="376" width="2" height="6" fill="#ff3b3b"/><rect x="310" y="376" width="2" height="4" fill="#ff3b3b"/><rect x="315" y="376" width="2" height="5" fill="#ff3b3b"/><rect x="319" y="376" width="2" height="6" fill="#ff3b3b"/><rect x="324" y="376" width="2" height="7" fill="#ff3b3b"/><rect x="328" y="376" width="2" height="5" fill="#ff3b3b"/><rect x="333" y="376" width="2" height="3" fill="#ff3b3b"/><rect x="337" y="376" width="2" height="1" fill="#ff3b3b"/><rect x="342" y="376" width="2" height="1" fill="#ff3b3b"/><rect x="351" y="375" width="2" height="1" fill="#ff3b3b"/><rect x="356" y="375" width="2" height="1" fill="#ff3b3b"/><rect x="360" y="375" width="2" height="1" fill="#ff3b3b"/><rect x="365" y="374" width="2" height="2" fill="#ff3b3b"/><rect x="369" y="372" width="2" height="4" fill="#ff3b3b"/><rect x="374" y="371" width="2" height="5" fill="#ff3b3b"/><rect x="379" y="372" width="2" height="4" fill="#ff3b3b"/><rect x="383" y="373" width="2" height="3" fill="#ff3b3b"/><rect x="388" y="374" width="2" height="2" fill="#ff3b3b"/><rect x="392" y="374" width="2" height="2" fill="#ff3b3b"/><rect x="397" y="373" width="2" height="3" fill="#ff3b3b"/><rect x="401" y="373" width="2" height="3" fill="#ff3b3b"/><rect x="406" y="373" width="2" height="3" fill="#ff3b3b"/><rect x="411" y="373" width="2" height="3" fill="#ff3b3b"/><rect x="415" y="373" width="2" height="3" fill="#ff3b3b"/><rect x="420" y="374" width="2" height="2" fill="#ff3b3b"/><rect x="424" y="374" width="2" height="2" fill="#ff3b3b"/><rect x="429" y="375" width="2" height="1" fill="#ff3b3b"/><rect x="438" y="376" width="2" height="1" fill="#ff3b3b"/><rect x="443" y="375" width="2" height="1" fill="#ff3b3b"/><rect x="447" y="375" width="2" height="1" fill="#ff3b3b"/><rect x="452" y="375" width="2" height="1" fill="#ff3b3b"/><rect x="456" y="375" width="2" height="1" fill="#ff3b3b"/><rect x="461" y="375" width="2" height="1" fill="#ff3b3b"/><rect x="465" y="375" width="2" height="1" fill="#ff3b3b"/><rect x="470" y="375" width="2" height="1" fill="#ff3b3b"/><rect x="475" y="374" width="2" height="2" fill="#ff3b3b"/><rect x="479" y="374" width="2" height="2" fill="#ff3b3b"/><rect x="484" y="373" width="2" height="3" fill="#ff3b3b"/><rect x="488" y="372" width="2" height="4" fill="#ff3b3b"/><rect x="493" y="372" width="2" height="4" fill="#ff3b3b"/><rect x="497" y="373" width="2" height="3" fill="#ff3b3b"/><rect x="502" y="374" width="2" height="2" fill="#ff3b3b"/><rect x="507" y="374" width="2" height="2" fill="#ff3b3b"/><rect x="511" y="374" width="2" height="2" fill="#ff3b3b"/><rect x="516" y="374" width="2" height="2" fill="#ff3b3b"/><rect x="520" y="374" width="2" height="2" fill="#ff3b3b"/><rect x="525" y="374" width="2" height="2" fill="#ff3b3b"/><rect x="529" y="374" width="2" height="2" fill="#ff3b3b"/><rect x="534" y="375" width="2" height="1" fill="#ff3b3b"/><rect x="539" y="375" width="2" height="1" fill="#ff3b3b"/><rect x="543" y="375" width="2" height="1" fill="#ff3b3b"/><rect x="552" y="376" width="2" height="1" fill="#ff3b3b"/><rect x="557" y="376" width="2" height="3" fill="#ff3b3b"/><rect x="561" y="376" width="2" height="7" fill="#ff3b3b"/><rect x="566" y="376" width="2" height="8" fill="#ff3b3b"/><rect x="571" y="376" width="2" height="8" fill="#ff3b3b"/><rect x="575" y="376" width="2" height="9" fill="#ff3b3b"/><rect x="580" y="376" width="2" height="8" fill="#ff3b3b"/><rect x="584" y="376" width="2" height="6" fill="#ff3b3b"/><rect x="589" y="376" width="2" height="5" fill="#ff3b3b"/><rect x="593" y="376" width="2" height="4" fill="#ff3b3b"/><rect x="598" y="376" width="2" height="2" fill="#ff3b3b"/><rect x="603" y="376" width="2" height="2" fill="#ff3b3b"/><rect x="607" y="376" width="2" height="2" fill="#ff3b3b"/><rect x="612" y="376" width="2" height="1" fill="#ff3b3b"/><rect x="616" y="376" width="2" height="1" fill="#ff3b3b"/><rect x="648" y="376" width="2" height="1" fill="#ff3b3b"/><rect x="653" y="376" width="2" height="1" fill="#ff3b3b"/><rect x="657" y="376" width="2" height="1" fill="#ff3b3b"/><rect x="662" y="376" width="2" height="1" fill="#ff3b3b"/><rect x="667" y="376" width="2" height="1" fill="#ff3b3b"/><rect x="671" y="376" width="2" height="1" fill="#ff3b3b"/><rect x="703" y="374" width="2" height="2" fill="#ff3b3b"/><rect x="708" y="371" width="2" height="5" fill="#ff3b3b"/><rect x="712" y="370" width="2" height="6" fill="#ff3b3b"/><rect x="717" y="369" width="2" height="7" fill="#ff3b3b"/><rect x="721" y="369" width="2" height="7" fill="#ff3b3b"/><rect x="726" y="369" width="2" height="7" fill="#ff3b3b"/><rect x="731" y="371" width="2" height="5" fill="#ff3b3b"/><rect x="735" y="372" width="2" height="4" fill="#ff3b3b"/><rect x="740" y="374" width="2" height="2" fill="#ff3b3b"/><rect x="749" y="376" width="2" height="2" fill="#ff3b3b"/><rect x="753" y="376" width="2" height="3" fill="#ff3b3b"/><rect x="758" y="376" width="2" height="5" fill="#ff3b3b"/><rect x="763" y="376" width="2" height="5" fill="#ff3b3b"/><rect x="767" y="376" width="2" height="5" fill="#ff3b3b"/><rect x="772" y="376" width="2" height="5" fill="#ff3b3b"/><rect x="776" y="376" width="2" height="5" fill="#ff3b3b"/><rect x="781" y="376" width="2" height="3" fill="#ff3b3b"/><rect x="785" y="376" width="2" height="3" fill="#ff3b3b"/><rect x="790" y="376" width="2" height="2" fill="#ff3b3b"/><rect x="795" y="376" width="2" height="1" fill="#ff3b3b"/><rect x="799" y="376" width="2" height="1" fill="#ff3b3b"/><rect x="804" y="375" width="2" height="1" fill="#ff3b3b"/><rect x="808" y="375" width="2" height="1" fill="#ff3b3b"/><rect x="813" y="375" width="2" height="1" fill="#ff3b3b"/><rect x="817" y="375" width="2" height="1" fill="#ff3b3b"/><rect x="831" y="376" width="2" height="1" fill="#ff3b3b"/><rect x="836" y="376" width="2" height="1" fill="#ff3b3b"/><rect x="840" y="376" width="2" height="1" fill="#ff3b3b"/><rect x="845" y="376" width="2" height="1" fill="#ff3b3b"/><rect x="849" y="376" width="2" height="1" fill="#ff3b3b"/><rect x="854" y="376" width="2" height="1" fill="#ff3b3b"/><rect x="859" y="376" width="2" height="1" fill="#ff3b3b"/><rect x="863" y="376" width="2" height="1" fill="#ff3b3b"/><rect x="868" y="376" width="2" height="1" fill="#ff3b3b"/><rect x="872" y="376" width="2" height="2" fill="#ff3b3b"/><rect x="877" y="376" width="2" height="2" fill="#ff3b3b"/><rect x="881" y="376" width="2" height="2" fill="#ff3b3b"/><rect x="886" y="376" width="2" height="2" fill="#ff3b3b"/><rect x="891" y="376" width="2" height="3" fill="#ff3b3b"/><rect x="895" y="376" width="2" height="3" fill="#ff3b3b"/><rect x="900" y="376" width="2" height="2" fill="#ff3b3b"/><rect x="904" y="376" width="2" height="1" fill="#ff3b3b"/><rect x="909" y="376" width="2" height="1" fill="#ff3b3b"/><rect x="913" y="376" width="2" height="1" fill="#ff3b3b"/><rect x="923" y="375" width="2" height="1" fill="#ff3b3b"/><rect x="927" y="375" width="2" height="1" fill="#ff3b3b"/><rect x="932" y="375" width="2" height="1" fill="#ff3b3b"/><rect x="936" y="374" width="2" height="2" fill="#ff3b3b"/><rect x="941" y="374" width="2" height="2" fill="#ff3b3b"/><rect x="945" y="374" width="2" height="2" fill="#ff3b3b"/><rect x="950" y="374" width="2" height="2" fill="#ff3b3b"/><rect x="955" y="374" width="2" height="2" fill="#ff3b3b"/><rect x="959" y="374" width="2" height="2" fill="#ff3b3b"/><rect x="964" y="373" width="2" height="3" fill="#ff3b3b"/><rect x="968" y="373" width="2" height="3" fill="#ff3b3b"/><rect x="973" y="373" width="2" height="3" fill="#ff3b3b"/><rect x="977" y="374" width="2" height="2" fill="#ff3b3b"/><rect x="982" y="374" width="2" height="2" fill="#ff3b3b"/><rect x="987" y="375" width="2" height="1" fill="#ff3b3b"/><rect x="991" y="375" width="2" height="1" fill="#ff3b3b"/></g>
<polyline points="0.0,383.2 19.3,388.5 38.5,393.7 53.9,398.6 65.5,402.8 77.0,403.4 90.5,400.5 104.0,397.2 113.6,397.2 123.3,400.5 134.8,406.3 144.5,410.5 154.1,411.7 165.6,411.5 177.2,407.2 192.6,401.4 211.9,395.7 231.1,387.0 239.8,381.8 240.0,381.2 247.7,376.4 255.4,372.6 265.0,370.6 274.7,369.7 292.0,369.3 301.6,372.6 313.2,375.4 324.7,377.4 336.3,380.8 347.9,382.8 355.6,383.7 365.2,382.2 374.8,380.3 390.2,377.8 403.7,374.5 417.2,371.6 432.6,370.6 442.2,369.7 461.5,369.7 475.0,367.7 479.8,367.0 480.0,367.7 495.4,363.9 510.8,361.0 528.2,359.1 547.4,357.5 557.0,358.1 570.5,362.0 582.1,366.8 593.6,371.2 605.2,374.1 618.7,375.8 634.1,375.4 653.3,374.9 672.6,375.4 684.2,376.4 701.5,376.4 711.1,374.9 720.8,372.2 730.0,368.7 738.0,366.5 745.0,364.5 750.0,363.9 765.4,365.4 775.0,368.7 784.7,371.2 800.1,372.2 817.4,372.2 827.0,371.2 842.4,371.2 852.1,372.6 867.5,372.6 877.1,374.1 888.7,375.4 904.1,376.0 915.6,377.0 931.0,377.4 942.6,376.0 958.0,374.5 971.5,372.6 981.1,370.6 990.8,369.7" fill="none" stroke="#ff4a4a" stroke-width="1" stroke-linejoin="round"/>
<polyline points="0.0,388.0 7.7,391.4 22.1,391.4 34.7,399.5 48.2,406.3 61.6,404.7 80.9,396.6 91.5,394.3 104.0,397.6 115.6,403.4 127.1,412.0 136.7,418.4 142.5,415.9 146.4,412.0 154.1,408.2 167.6,401.8 181.0,400.9 188.8,396.6 196.5,393.2 213.8,389.5 225.3,381.2 233.1,374.5 239.8,372.0 240.0,371.6 249.6,368.7 259.3,368.7 264.1,367.2 270.8,369.3 278.5,370.6 286.2,370.6 295.9,375.4 305.5,377.8 317.0,380.3 326.7,384.1 338.2,384.5 347.9,382.2 355.6,381.2 365.2,380.3 372.9,376.4 382.5,374.5 392.2,373.5 405.6,370.2 413.3,369.3 420.1,368.3 424.9,369.7 438.4,370.6 442.2,368.3 461.5,368.7 471.1,367.4 479.8,364.3 480.0,363.9 497.3,360.0 508.9,359.7 524.3,358.1 530.1,356.2 541.6,356.6 548.4,358.1 555.1,361.0 561.9,366.4 568.6,369.3 578.2,374.5 595.6,374.9 605.2,376.4 612.9,376.4 620.6,374.5 639.9,374.5 645.6,375.4 653.3,374.5 663.0,376.4 672.6,377.4 682.2,376.4 691.9,375.8 703.4,373.5 707.3,369.7 716.9,365.8 724.6,363.9 730.0,363.3 735.0,363.2 742.0,363.8 750.0,365.8 759.6,369.7 773.1,372.9 784.7,374.1 794.3,372.6 800.1,370.6 807.8,370.2 815.5,371.6 827.0,371.2 834.7,372.2 850.2,372.2 854.0,372.9 865.6,372.9 873.3,376.0 884.8,376.4 894.5,378.3 907.9,378.3 917.6,377.0 933.0,375.1 950.3,373.5 961.9,371.0 973.4,368.7 983.1,367.4 990.8,368.7" fill="none" stroke="#5a5aff" stroke-width="1" stroke-linejoin="round"/>
<line x1="50" y1="409.2" x2="132" y2="422.3" stroke="#ff0000" stroke-width="1.2"/>
<line x1="543.6" y1="352.9" x2="990.8" y2="363.9" stroke="#ff0000" stroke-width="1.3"/>
<rect x="0" y="463" width="1235" height="20" fill="#e6cfe8"/>
<line x1="0" y1="456.5" x2="1236" y2="456.5" stroke="#858585" stroke-width="1" stroke-dasharray="6,5" shape-rendering="crispEdges"/>
<line x1="0" y1="463.5" x2="1236" y2="463.5" stroke="#666" stroke-width="1" stroke-dasharray="6,5" shape-rendering="crispEdges"/>
<line x1="0" y1="483.5" x2="1236" y2="483.5" stroke="#666" stroke-width="1" stroke-dasharray="6,5" shape-rendering="crispEdges"/>
<polyline points="0.0,486.7 9.6,483.2 19.3,478.4 27.9,476.5 32.7,482.3 38.5,487.5 45.3,490.5 51.0,488.6 56.8,483.2 63.6,473.6 71.3,464.9 79.0,460.1 86.7,459.5 94.4,462.0 102.1,467.8 109.8,473.6 117.5,481.3 125.2,487.5 132.9,490.5 138.7,488.0 143.5,481.3 149.3,470.7 154.1,463.0 159.9,459.1 167.6,458.2 177.2,460.1 184.9,462.0 192.6,460.1 198.4,459.1 204.2,461.1 211.9,463.0 219.6,462.0 227.3,458.8 231.1,456.8 238.8,459.3 240.0,459.7 249.6,464.0 259.3,465.3 265.0,466.5 269.9,467.8 274.7,472.6 280.4,478.4 286.2,482.8 292.0,484.2 297.8,486.1 305.5,489.0 313.2,487.1 319.0,486.1 326.7,487.5 333.4,487.5 338.2,483.2 344.0,475.5 349.8,467.8 354.6,463.4 359.4,462.0 367.1,464.9 374.8,463.0 380.6,462.0 386.4,463.0 394.1,465.9 401.8,466.3 407.6,463.6 413.3,461.1 420.1,461.1 425.9,465.9 432.6,473.6 439.3,480.3 444.2,478.4 449.0,475.5 453.8,472.2 459.6,474.0 465.3,477.4 471.1,474.6 476.9,468.8 479.8,465.9 480.0,466.3 485.8,461.1 491.6,459.5 501.2,459.7 508.9,462.0 514.7,462.0 521.4,458.8 529.1,458.2 535.9,462.0 541.6,468.8 548.4,477.4 555.1,482.8 560.9,486.1 566.7,488.6 574.4,487.1 582.1,486.1 589.8,483.2 597.5,480.3 605.2,479.4 611.0,479.0 616.7,474.6 622.5,465.9 628.3,461.1 634.1,461.1 638.9,464.9 644.7,472.6 651.4,478.4 657.2,481.7 663.0,481.3 667.8,482.8 674.5,478.4 682.2,472.6 689.0,470.7 694.8,468.8 701.5,462.0 707.3,457.8 713.1,457.2 719.8,461.1 726.5,464.0 730.0,465.9 740.0,470.0 750.0,477.4 756.7,485.2 763.5,489.0 773.1,489.6 782.7,489.0 790.4,485.2 797.2,474.6 803.9,465.9 808.7,462.0 813.6,463.6 819.3,469.7 826.1,474.2 832.8,474.2 839.6,476.5 846.3,480.9 852.1,480.3 857.9,479.0 863.6,480.3 867.5,484.2 873.3,486.7 878.1,489.0 884.8,488.0 890.6,485.7 897.3,484.2 904.1,484.2 909.9,480.3 916.6,473.6 923.3,465.9 930.1,458.8 934.9,458.2 944.5,458.6 956.1,458.2 963.8,457.2 972.5,457.2 981.1,459.7 986.9,463.0 991.7,466.9" fill="none" stroke="#ff3a3a" stroke-width="1" stroke-linejoin="round"/>
<polyline points="0.0,483.2 5.8,482.6 11.6,481.3 17.3,475.5 23.1,475.5 28.9,480.9 34.7,487.1 40.4,490.4 46.2,490.0 52.0,484.2 57.8,475.5 65.5,465.9 72.2,460.1 77.0,458.2 82.8,461.1 90.5,461.7 98.2,467.8 105.9,472.6 111.7,477.4 117.5,485.2 123.3,489.4 131.0,490.5 136.7,487.1 140.6,480.3 144.5,469.7 149.3,462.0 154.1,459.5 163.7,458.2 173.3,459.1 182.0,463.0 187.8,459.7 196.5,457.2 200.3,461.1 206.1,462.0 209.9,464.3 213.8,462.0 219.6,461.7 226.3,458.2 233.1,458.2 238.8,461.7 240.0,462.0 246.7,465.5 259.3,465.5 264.1,468.4 268.9,469.4 273.7,475.5 278.5,481.3 284.3,483.8 292.0,484.6 297.8,487.5 303.6,489.4 309.3,487.5 314.2,485.5 319.0,486.1 324.7,488.6 330.5,487.5 334.4,484.2 340.2,476.5 345.9,467.8 350.7,462.6 355.6,461.5 360.4,464.0 365.2,466.3 371.0,463.0 374.8,462.0 378.7,460.5 382.5,463.0 388.3,464.9 393.1,468.2 397.9,466.9 403.7,462.4 410.5,459.7 414.3,462.4 420.1,463.4 424.9,469.7 429.7,474.6 434.5,481.3 438.4,484.2 442.2,475.5 447.0,472.6 452.8,469.7 456.7,476.1 461.5,478.4 466.3,477.1 471.1,471.7 475.9,464.9 479.8,461.5 480.0,463.0 483.9,459.7 491.6,459.5 501.2,460.5 507.9,463.4 513.7,461.1 520.4,457.2 526.2,459.1 531.0,459.7 536.8,464.9 543.6,476.5 547.4,478.4 552.2,483.2 557.0,484.2 561.9,490.5 568.6,487.1 576.3,486.1 584.0,484.2 591.7,480.9 599.4,479.4 604.2,479.8 608.1,481.7 612.9,476.5 617.7,466.9 621.6,460.5 625.4,459.1 630.2,461.1 636.0,465.9 641.8,473.6 647.6,479.8 652.4,479.4 656.2,482.8 661.0,481.7 666.8,482.8 674.5,474.6 680.3,470.3 687.0,470.3 690.9,471.3 694.8,466.9 698.6,460.1 703.4,456.8 711.1,457.8 718.8,462.0 725.6,464.0 730.0,466.9 740.0,474.0 750.0,483.2 755.8,488.0 762.5,490.5 769.3,489.4 778.9,489.0 785.6,486.1 792.4,476.5 799.1,464.9 803.5,460.1 808.7,462.4 813.6,467.8 817.4,473.2 823.2,474.2 830.9,473.2 835.7,477.4 841.5,482.8 846.3,482.3 850.2,479.4 855.0,477.1 859.8,481.3 866.5,487.1 871.3,488.0 877.1,490.9 882.9,486.1 886.7,483.2 891.6,483.8 895.4,486.7 900.2,484.2 904.1,482.3 909.9,475.5 915.6,468.8 921.4,461.1 927.2,458.2 933.0,456.8 942.6,458.2 950.3,457.6 955.1,456.8 959.9,457.2 971.5,457.2 978.2,459.1 983.1,461.1 986.9,466.9 991.7,471.7" fill="none" stroke="#4a4aff" stroke-width="1" stroke-linejoin="round"/>
<g shape-rendering="crispEdges"><rect x="0" y="334" width="1298" height="1" fill="#555"/><rect x="0" y="437" width="1298" height="1" fill="#555"/><rect x="0" y="509" width="1237" height="1" fill="#555"/><rect x="1236" y="0" width="1" height="327" fill="#555"/><rect x="1236" y="335" width="1" height="100" fill="#555"/><rect x="1236" y="438" width="1" height="72" fill="#555"/><rect x="1237" y="26" width="4" height="1" fill="#555"/><rect x="1237" y="56" width="4" height="1" fill="#555"/><rect x="1237" y="87" width="4" height="1" fill="#555"/><rect x="1237" y="117" width="4" height="1" fill="#555"/><rect x="1237" y="147" width="4" height="1" fill="#555"/><rect x="1237" y="177" width="4" height="1" fill="#555"/><rect x="1237" y="207" width="4" height="1" fill="#555"/><rect x="1237" y="237" width="4" height="1" fill="#555"/><rect x="1237" y="267" width="4" height="1" fill="#555"/><rect x="1237" y="298" width="4" height="1" fill="#555"/><rect x="1237" y="351" width="4" height="1" fill="#555"/><rect x="1237" y="359" width="4" height="1" fill="#555"/><rect x="1237" y="375" width="4" height="1" fill="#555"/><rect x="1237" y="407" width="4" height="1" fill="#555"/><rect x="1237" y="456" width="4" height="1" fill="#555"/><rect x="1237" y="473" width="4" height="1" fill="#555"/><rect x="1237" y="490" width="4" height="1" fill="#555"/></g>
</svg>

<div class="ax" style="top:-8.1px">5000.00</div>
<div class="ax" style="top:22.0px">4900.00</div>
<div class="ax" style="top:52.2px">4800.00</div>
<div class="ax" style="top:82.3px">4700.00</div>
<div class="ax" style="top:112.5px">4600.00</div>
<div class="ax" style="top:142.7px">4500.00</div>
<div class="ax" style="top:172.8px">4400.00</div>
<div class="ax" style="top:202.9px">4300.00</div>
<div class="ax" style="top:233.1px">4200.00</div>
<div class="ax" style="top:263.2px">4100.00</div>
<div class="ax" style="top:293.4px">4000.00</div>
<div class="ax" style="top:402.5px">-100.0000</div>
<div class="ax" style="top:339px">100.0000</div>
<div class="ax" style="top:371px">0.0000</div>
<div class="ax" style="top:485.5px">0.0000</div>
<div class="lb nt" style="top:41px;width:51px;background:#4169e1">4826.51</div>
<div class="lb" style="top:335px;width:51px;background:#0000ff">24.3677</div>
<div class="lb" style="top:351px;width:51px;background:#ff0000">20.3858</div>
<div class="lb" style="top:367px;width:45px;background:#ff0000">3.9819</div>
<div class="lb nt" style="top:448px;width:51px;background:#ff0000"></div>
<div class="lb" style="top:463.5px;width:51px;background:#0000ff">55.5176</div>
<div class="lb" style="top:449px;width:57px;background:#555">102.2005</div>
<div class="tm" style="left:54.7px;">20</div>
<div style="position:absolute;left:55px;top:510px;width:1px;height:3px;background:#555"></div>
<div class="tm" style="left:159.89999999999998px;">24</div>
<div style="position:absolute;left:160px;top:510px;width:1px;height:3px;background:#555"></div>
<div class="tm" style="left:378.5px;">28</div>
<div style="position:absolute;left:379px;top:510px;width:1px;height:3px;background:#555"></div>
<div class="tm" style="left:483.7px;font-weight:bold;">Apr</div>
<div style="position:absolute;left:484px;top:510px;width:1px;height:3px;background:#555"></div>
<div class="tm" style="left:593.5px;">3</div>
<div style="position:absolute;left:594px;top:510px;width:1px;height:3px;background:#555"></div>
<div class="tm" style="left:698.7px;">8</div>
<div style="position:absolute;left:699px;top:510px;width:1px;height:3px;background:#555"></div>
<div class="tm" style="left:808.9000000000001px;">10</div>
<div style="position:absolute;left:809px;top:510px;width:1px;height:3px;background:#555"></div>
<div class="tm" style="left:913.7px;">14</div>
<div style="position:absolute;left:914px;top:510px;width:1px;height:3px;background:#555"></div>
<div class="tm" style="left:1023.7px;">16</div>
<div style="position:absolute;left:1024px;top:510px;width:1px;height:3px;background:#555"></div>
<div class="tm" style="left:1132.5px;">18</div>
<div style="position:absolute;left:1133px;top:510px;width:1px;height:3px;background:#555"></div>
<div class="t" style="left:242px;top:510px;width:110px;height:18px;background:#555;color:#fff;font-weight:bold;font-size:11px;line-height:21px;letter-spacing:-0.05px;text-align:center;overflow:hidden">2026-03-26 13:00:00</div><div style="position:absolute;left:297px;top:510px;width:1px;height:3px;background:#fff"></div>
<div style="position:absolute;left:0;top:528px;width:1298px;height:6px;background:#e6e6e6"></div>
<div style="position:absolute;left:39px;top:531px;width:1px;height:3px;background:#aaa"></div>
<div style="position:absolute;left:77px;top:531px;width:1px;height:3px;background:#aaa"></div>
<div style="position:absolute;left:119px;top:531px;width:1px;height:3px;background:#aaa"></div>
<div style="position:absolute;left:158px;top:531px;width:1px;height:3px;background:#aaa"></div>
<div style="position:absolute;left:197px;top:531px;width:1px;height:3px;background:#aaa"></div>
<div style="position:absolute;left:1133px;top:532px;width:1px;height:2px;background:#aaa"></div>
<div style="position:absolute;left:1167px;top:532px;width:1px;height:2px;background:#aaa"></div>
<div style="position:absolute;left:1208px;top:532px;width:1px;height:2px;background:#aaa"></div>
<div style="position:absolute;left:1256px;top:532px;width:1px;height:2px;background:#aaa"></div>
<svg class="t" style="left:0;top:2px" width="14" height="14"><rect x="1" y="1.5" width="10.5" height="11" fill="none" stroke="#555" stroke-width="1"/><line x1="3" y1="7" x2="9.5" y2="7" stroke="#555" stroke-width="1"/></svg>
<div class="t" style="left:19.5px;top:0px;font-size:16px;line-height:19px;color:#4d4d4d;">XAU/USD, 120,</div>
<svg class="t" style="left:136px;top:0" width="270" height="22"><text x="2" y="14.4" textLength="265" lengthAdjust="spacingAndGlyphs" font-size="14.6" fill="#4d4d4d" font-family="'Liberation Sans', 'Noto Sans Thai', 'Noto Sans Thai UI', Loma, Garuda, Tahoma, sans-serif">อัตราแลกเปลี่ยนสกุลเงินแบบเรียลไทม์</text></svg>
<svg class="t" style="left:408px;top:8px" width="8" height="5"><polygon points="0,0 7,0 3.5,4" fill="#bbb"/></svg>
<div class="ic" style="left:425.5px;top:3px;width:13px;height:13px"><svg width="100%" height="100%" viewBox="0 0 14 14"><path d="M1.6 7 Q7 -1.4 12.4 7 Q7 15.4 1.6 7Z" fill="#fff"/><circle cx="7" cy="7" r="2.2" fill="none" stroke="#d9d9d9" stroke-width="1.2"/></svg></div><div class="ic" style="left:442.1px;top:3px;width:13px;height:13px"><svg width="100%" height="100%" viewBox="0 0 14 14"><circle cx="7" cy="7" r="3.8" fill="#fff"/><g stroke="#fff" stroke-width="2.1"><line x1="9.50" y1="7.00" x2="12.30" y2="7.00"/><line x1="8.77" y1="8.77" x2="10.75" y2="10.75"/><line x1="7.00" y1="9.50" x2="7.00" y2="12.30"/><line x1="5.23" y1="8.77" x2="3.25" y2="10.75"/><line x1="4.50" y1="7.00" x2="1.70" y2="7.00"/><line x1="5.23" y1="5.23" x2="3.25" y2="3.25"/><line x1="7.00" y1="4.50" x2="7.00" y2="1.70"/><line x1="8.77" y1="5.23" x2="10.75" y2="3.25"/></g><circle cx="7" cy="7" r="1.9" fill="#d9d9d9"/></svg></div>
<div class="t" style="left:464px;top:1.5px;font-size:15px;line-height:16px;color:#555;letter-spacing:-0.5px">O</div><div class="t" style="left:475.5px;top:1.5px;font-size:15.2px;line-height:16px;color:#24583a;letter-spacing:-0.66px">4438.60</div>
<div class="t" style="left:537.5px;top:1.5px;font-size:15px;line-height:16px;color:#555;letter-spacing:-0.5px">H</div><div class="t" style="left:548.5px;top:1.5px;font-size:15.2px;line-height:16px;color:#24583a;letter-spacing:-0.66px">4463.85</div>
<div class="t" style="left:611px;top:1.5px;font-size:15px;line-height:16px;color:#555;letter-spacing:-0.5px">L</div><div class="t" style="left:620px;top:1.5px;font-size:15.2px;line-height:16px;color:#24583a;letter-spacing:-0.66px">4415.98</div>
<div class="t" style="left:681px;top:1.5px;font-size:15px;line-height:16px;color:#555;letter-spacing:-0.5px">C</div><div class="t" style="left:692px;top:1.5px;font-size:15.2px;line-height:16px;color:#24583a;letter-spacing:-0.66px">4452.70</div>
<div class="t leg" style="left:0.5px;top:23px;line-height:14px;letter-spacing:-0.2px">ZigZag (1, 10)</div>
<svg class="t" style="left:78px;top:28px" width="8" height="5"><polygon points="0,0 7,0 3.5,4" fill="#bbb"/></svg>
<div class="ic" style="left:96px;top:23px;width:14px;height:14px"><svg width="100%" height="100%" viewBox="0 0 14 14"><path d="M1.6 7 Q7 -1.4 12.4 7 Q7 15.4 1.6 7Z" fill="#fff"/><circle cx="7" cy="7" r="2.2" fill="none" stroke="#d9d9d9" stroke-width="1.2"/></svg></div><div class="ic" style="left:113px;top:23px;width:14px;height:14px"><svg width="100%" height="100%" viewBox="0 0 14 14"><circle cx="7" cy="7" r="3.8" fill="#fff"/><g stroke="#fff" stroke-width="2.1"><line x1="9.50" y1="7.00" x2="12.30" y2="7.00"/><line x1="8.77" y1="8.77" x2="10.75" y2="10.75"/><line x1="7.00" y1="9.50" x2="7.00" y2="12.30"/><line x1="5.23" y1="8.77" x2="3.25" y2="10.75"/><line x1="4.50" y1="7.00" x2="1.70" y2="7.00"/><line x1="5.23" y1="5.23" x2="3.25" y2="3.25"/><line x1="7.00" y1="4.50" x2="7.00" y2="1.70"/><line x1="8.77" y1="5.23" x2="10.75" y2="3.25"/></g><circle cx="7" cy="7" r="1.9" fill="#d9d9d9"/></svg></div><div class="ic" style="left:130px;top:23px;width:14px;height:14px"><svg width="100%" height="100%" viewBox="0 0 14 14"><g stroke="#fff" stroke-width="1.7"><line x1="2.8" y1="2.4" x2="11.2" y2="11.6"/><line x1="11.2" y1="2.4" x2="2.8" y2="11.6"/></g></svg></div>
<div class="t" style="left:152.5px;top:23px;font-size:12px;line-height:14px;color:#111;letter-spacing:0.95px;-webkit-text-stroke:0.25px #111">n/a</div>
<div class="t leg" style="left:-0.5px;top:343px;line-height:14px;letter-spacing:-0.15px">MACD (12, 26, close, 9)</div>
<svg class="t" style="left:130px;top:348px" width="8" height="5"><polygon points="0,0 7,0 3.5,4" fill="#bbb"/></svg>
<div class="ic" style="left:147px;top:343px;width:14px;height:14px"><svg width="100%" height="100%" viewBox="0 0 14 14"><path d="M1.6 7 Q7 -1.4 12.4 7 Q7 15.4 1.6 7Z" fill="#fff"/><circle cx="7" cy="7" r="2.2" fill="none" stroke="#d9d9d9" stroke-width="1.2"/></svg></div><div class="ic" style="left:164px;top:343px;width:14px;height:14px"><svg width="100%" height="100%" viewBox="0 0 14 14"><circle cx="7" cy="7" r="3.8" fill="#fff"/><g stroke="#fff" stroke-width="2.1"><line x1="9.50" y1="7.00" x2="12.30" y2="7.00"/><line x1="8.77" y1="8.77" x2="10.75" y2="10.75"/><line x1="7.00" y1="9.50" x2="7.00" y2="12.30"/><line x1="5.23" y1="8.77" x2="3.25" y2="10.75"/><line x1="4.50" y1="7.00" x2="1.70" y2="7.00"/><line x1="5.23" y1="5.23" x2="3.25" y2="3.25"/><line x1="7.00" y1="4.50" x2="7.00" y2="1.70"/><line x1="8.77" y1="5.23" x2="10.75" y2="3.25"/></g><circle cx="7" cy="7" r="1.9" fill="#d9d9d9"/></svg></div><div class="ic" style="left:181px;top:343px;width:14px;height:14px"><svg width="100%" height="100%" viewBox="0 0 14 14"><g stroke="#fff" stroke-width="1.7"><line x1="2.8" y1="2.4" x2="11.2" y2="11.6"/><line x1="11.2" y1="2.4" x2="2.8" y2="11.6"/></g></svg></div>
<div class="t" style="left:204px;top:343px;font-size:12px;letter-spacing:-0.3px;line-height:14px;color:#ff0000">-14.8330</div>
<div class="t" style="left:261px;top:343px;font-size:12px;letter-spacing:-0.3px;line-height:14px;color:#0000ff">1.3398</div>
<div class="t" style="left:306.5px;top:343px;font-size:12px;letter-spacing:-0.3px;line-height:14px;color:#ff0000">16.1728</div>
<div class="t leg" style="left:0px;top:446.5px;line-height:14px;letter-spacing:-0.2px">Stoch RSI (14, 14, 3, 3)</div>
<svg class="t" style="left:127.5px;top:451.5px" width="8" height="5"><polygon points="0,0 7,0 3.5,4" fill="#bbb"/></svg>
<div class="ic" style="left:145px;top:445.5px;width:14px;height:14px"><svg width="100%" height="100%" viewBox="0 0 14 14"><path d="M1.6 7 Q7 -1.4 12.4 7 Q7 15.4 1.6 7Z" fill="#fff"/><circle cx="7" cy="7" r="2.2" fill="none" stroke="#d9d9d9" stroke-width="1.2"/></svg></div><div class="ic" style="left:162px;top:445.5px;width:14px;height:14px"><svg width="100%" height="100%" viewBox="0 0 14 14"><circle cx="7" cy="7" r="3.8" fill="#fff"/><g stroke="#fff" stroke-width="2.1"><line x1="9.50" y1="7.00" x2="12.30" y2="7.00"/><line x1="8.77" y1="8.77" x2="10.75" y2="10.75"/><line x1="7.00" y1="9.50" x2="7.00" y2="12.30"/><line x1="5.23" y1="8.77" x2="3.25" y2="10.75"/><line x1="4.50" y1="7.00" x2="1.70" y2="7.00"/><line x1="5.23" y1="5.23" x2="3.25" y2="3.25"/><line x1="7.00" y1="4.50" x2="7.00" y2="1.70"/><line x1="8.77" y1="5.23" x2="10.75" y2="3.25"/></g><circle cx="7" cy="7" r="1.9" fill="#d9d9d9"/></svg></div><div class="ic" style="left:179px;top:445.5px;width:14px;height:14px"><svg width="100%" height="100%" viewBox="0 0 14 14"><g stroke="#fff" stroke-width="1.7"><line x1="2.8" y1="2.4" x2="11.2" y2="11.6"/><line x1="11.2" y1="2.4" x2="2.8" y2="11.6"/></g></svg></div>
<div class="t" style="left:201.5px;top:447px;font-size:12px;letter-spacing:-0.3px;line-height:14px;color:#0000ff">8.8994</div>
<div class="t" style="left:248px;top:447px;font-size:12px;letter-spacing:-0.3px;line-height:14px;color:#ff0000">14.5763</div>
<div style="position:absolute;left:1199px;top:447px;width:14px;height:14px;background:rgba(0,0,0,0.045)"></div><div style="position:absolute;left:1216px;top:447px;width:14px;height:14px;background:rgba(0,0,0,0.045)"></div>
<div class="t rd" style="left:232px;top:105.9px;font-size:10.1px;letter-spacing:0px;transform:translate(-50%,-50%)">1</div>
<div class="t rd" style="left:332.5px;top:204.3px;font-size:10.1px;letter-spacing:0px;transform:translate(-50%,-50%)">2</div>
<div class="t rd" style="left:547px;top:41.9px;font-size:10.1px;letter-spacing:0px;transform:translate(-50%,-50%)">3</div>
<div class="t rd" style="left:570.5px;top:143.9px;font-size:10.1px;letter-spacing:0px;transform:translate(-50%,-50%)">4</div>
<div class="t rd" style="left:986px;top:14.1px;font-size:10.1px;letter-spacing:0px;transform:translate(-50%,-50%)">5</div>
<div class="t rd" style="left:131.5px;top:279.5px;font-size:10.5px;letter-spacing:0px;transform:translate(-50%,-50%)">c</div>
<div class="t rd" style="left:119.3px;top:426.2px;font-size:11px;letter-spacing:0.3px;transform:translate(-50%,-50%)">bull</div>
<div class="t rd" style="left:256.2px;top:352.2px;font-size:11px;letter-spacing:0.3px;transform:translate(-50%,-50%)">break</div>
<div class="t rd" style="left:339.2px;top:394.6px;font-size:11px;letter-spacing:0.35px;transform:translate(-50%,-50%)">throw back</div>
<div class="t rd" style="left:550.2px;top:338.6px;font-size:11px;letter-spacing:0.3px;transform:translate(-50%,-50%)">high</div>
<div class="t rd" style="left:622.2px;top:387.6px;font-size:11px;letter-spacing:0.3px;transform:translate(-50%,-50%)">hidden bull</div>
<div class="t rd" style="left:972.2px;top:351.6px;font-size:11px;letter-spacing:0.3px;transform:translate(-50%,-50%)">bear</div>
<div class="t" style="left:7.5px;top:291.5px;font-size:21.5px;line-height:24px;font-weight:bold;color:#111;letter-spacing:-0.55px;-webkit-text-stroke:0.35px #111">Investing<span style="font-weight:normal;font-size:14px;color:#555;letter-spacing:0;-webkit-text-stroke:0;margin-left:1px">.com</span></div>
<div style="position:absolute;left:68px;top:293.5px;width:4.5px;height:2.6px;background:#f5a623;transform:rotate(-50deg);border-radius:1px"></div>
</body></html>
